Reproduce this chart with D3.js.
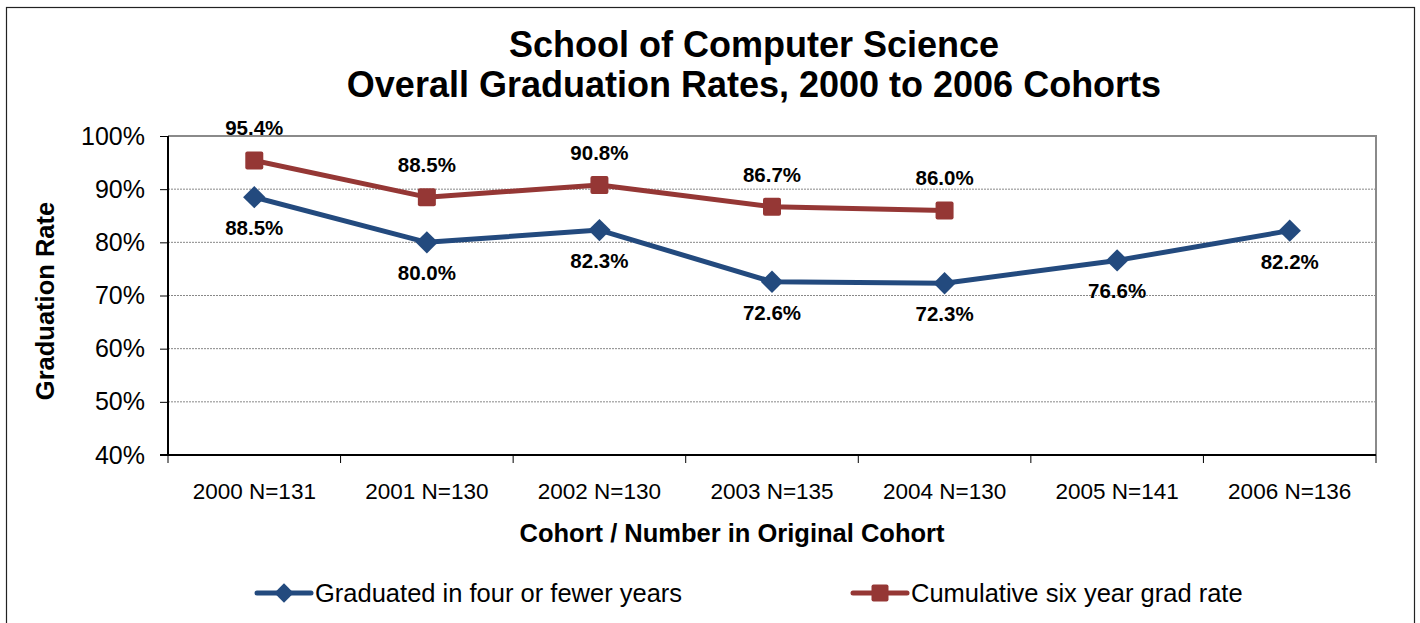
<!DOCTYPE html>
<html><head><meta charset="utf-8">
<script src="https://cdn.jsdelivr.net/npm/d3@7"></script>
<style>body{margin:0;background:#fff}svg{font-family:"Liberation Sans",Arial,sans-serif}</style>
</head><body>
<svg id="c" width="1420" height="623"></svg>
<script>
const categories = ["2000 N=131","2001 N=130","2002 N=130","2003 N=135","2004 N=130","2005 N=141","2006 N=136"];
const fourYear = [88.5, 80.0, 82.3, 72.6, 72.3, 76.6, 82.2];
const sixYear = [95.4, 88.5, 90.8, 86.7, 86.0];
const yTicks = [40,50,60,70,80,90,100];
const seriesNames = ["Graduated in four or fewer years","Cumulative six year grad rate"];
const colors = ["#234A7E","#953735"];

const svg = d3.select("#c");
svg.append("rect").attr("x",6.5).attr("y",7.5).attr("width",1408).attr("height",640).attr("fill","#fff").attr("stroke","#222").attr("stroke-width",1.2);

const L=168,R=1376,T=136,B=455;
const x = d3.scaleBand().domain(categories).range([L,R]);
const y = d3.scaleLinear().domain([40,100]).range([B,T]);

// title
svg.append("text").attr("x",754).attr("y",57).attr("text-anchor","middle").attr("font-weight","bold").attr("font-size",36).text("School of Computer Science");
svg.append("text").attr("x",754).attr("y",97).attr("text-anchor","middle").attr("font-weight","bold").attr("font-size",36).text("Overall Graduation Rates, 2000 to 2006 Cohorts");

// gridlines
svg.append("g").selectAll("line").data(yTicks.filter(d=>d>40&&d<100)).join("line")
 .attr("x1",L).attr("x2",R).attr("y1",d=>y(d)).attr("y2",d=>y(d))
 .attr("stroke","#888").attr("stroke-width",1).attr("stroke-dasharray","2,1");
// plot border top/right
svg.append("path").attr("d",`M${L},${T}H${R}V${B}`).attr("fill","none").attr("stroke","#8a8a8a").attr("stroke-width",2);

// y axis
const ya = svg.append("g").attr("transform",`translate(${L},0)`)
 .call(d3.axisLeft(y).tickValues(yTicks).tickFormat(d=>d+"%").tickSize(8).tickPadding(15));
ya.select(".domain").attr("stroke","#000").attr("stroke-width",2).attr("d",`M0,${T}V${B}`);
ya.selectAll(".tick line").attr("stroke","#000");
ya.selectAll("text").attr("font-size",25).attr("font-family","Liberation Sans, Arial").attr("fill","#000");

// x axis
const xa = svg.append("g").attr("transform",`translate(0,${B})`)
 .call(d3.axisBottom(x).tickSize(0).tickPadding(28));
xa.select(".domain").attr("stroke","#000").attr("stroke-width",2).attr("d",`M${L-8},0H${R}`);
xa.selectAll("text").attr("font-size",22.5).attr("font-family","Liberation Sans, Arial").attr("fill","#000");
svg.append("g").selectAll("line").data(d3.range(categories.length+1)).join("line")
 .attr("x1",i=>L+i*x.bandwidth()).attr("x2",i=>L+i*x.bandwidth())
 .attr("y1",B).attr("y2",B+8).attr("stroke","#000").attr("stroke-width",1);

svg.append("text").attr("x",732).attr("y",542).attr("text-anchor","middle").attr("font-weight","bold").attr("font-size",25.5).text("Cohort / Number in Original Cohort");
svg.append("text").attr("transform","translate(54,301) rotate(-90)").attr("text-anchor","middle").attr("font-weight","bold").attr("font-size",25.5).text("Graduation Rate");

const cx = i=>x(categories[i])+x.bandwidth()/2;
const line = d3.line().x((d,i)=>cx(i)).y(d=>y(d));
const diamond = d3.symbol().type(d3.symbolDiamond2).size(320);

function drawSeries(vals,color,shape,labelDy){
  svg.append("path").datum(vals).attr("d",line).attr("fill","none").attr("stroke",color).attr("stroke-width",5).attr("stroke-linejoin","round");
  const g = svg.append("g");
  vals.forEach((v,i)=>{
    if(shape==="d"){
      g.append("path").attr("d",diamond).attr("transform",`translate(${cx(i)},${y(v)})`).attr("fill",color);
    } else {
      g.append("rect").attr("x",cx(i)-9).attr("y",y(v)-9).attr("width",18).attr("height",18).attr("rx",2).attr("fill",color);
    }
    g.append("text").attr("x",cx(i)).attr("y",y(v)+labelDy).attr("text-anchor","middle").attr("font-weight","bold").attr("font-size",20.5).text(v.toFixed(1)+"%");
  });
}
drawSeries(fourYear,colors[0],"d",38);
drawSeries(sixYear,colors[1],"s",-25);

// legend
const lg = svg.append("g");
[[257,seriesNames[0],colors[0],"d"],[853,seriesNames[1],colors[1],"s"]].forEach(([lx,name,c,s])=>{
  lg.append("line").attr("x1",lx).attr("x2",lx+54).attr("y1",593).attr("y2",593).attr("stroke",c).attr("stroke-width",5).attr("stroke-linecap","round");
  if(s==="d") lg.append("path").attr("d",d3.symbol().type(d3.symbolDiamond2).size(240)).attr("transform",`translate(${lx+27},593)`).attr("fill",c);
  else lg.append("rect").attr("x",lx+27-8.5).attr("y",584.5).attr("width",17).attr("height",17).attr("rx",2).attr("fill",c);
  lg.append("text").attr("x",lx+58).attr("y",602).attr("font-size",25.5).text(name);
});
</script>
</body></html>
